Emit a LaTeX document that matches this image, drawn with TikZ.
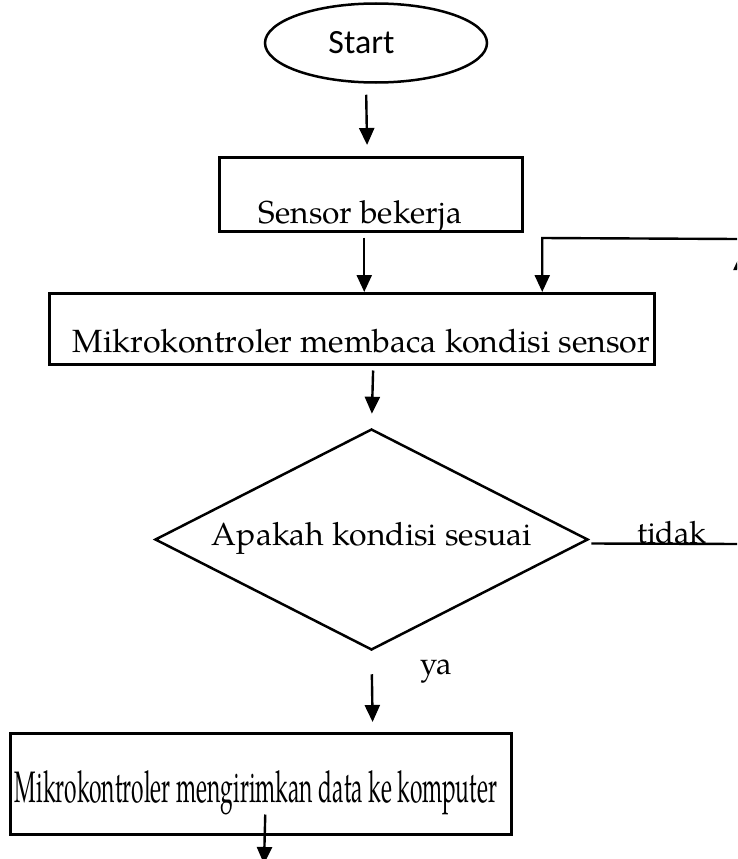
\documentclass[tikz,border=0pt]{standalone}
\usepackage{fontspec}
\setmainfont{TeX Gyre Pagella}
\newfontfamily\startfont{Carlito}
\usepackage{graphicx}
\usetikzlibrary{arrows.meta,shapes.geometric}
\tikzset{
 box/.style={draw, line width=2.5pt, inner sep=0pt, anchor=north west},
 arr/.style={line width=2.4pt, -{Triangle[length=17pt,width=15pt]}},
 txt/.style={inner sep=0pt, anchor=base},
}
\begin{document}
\begin{tikzpicture}[x=1pt,y=-1pt]
\useasboundingbox (0,0) rectangle (737,859);
\clip (0,0) rectangle (737,859);
\fill[white] (0,0) rectangle (737,859);
% shapes
\node[draw, ellipse, line width=2.5pt, minimum width=222pt, minimum height=79pt, inner sep=0pt] (start) at (376,43) {};
\node[box, minimum width=303pt, minimum height=74pt] (sensor) at (218,156) {};
\node[box, minimum width=605pt, minimum height=71pt] (mikro) at (48,292) {};
\node[draw, diamond, line width=2.5pt, minimum width=433pt, minimum height=221pt, inner sep=0pt] (cek) at (371.5,539.5) {};
\node[box, minimum width=501pt, minimum height=101pt] (kirim) at (9,732) {};
% texts
\node[txt] (tstart) at (361.5,53) {\resizebox{66pt}{!}{\startfont Start}};
\node[txt] (tsensor) at (360.5,223) {\resizebox{203pt}{!}{Sensor bekerja}};
\node[txt] (tmikro) at (361.5,352) {\resizebox{577pt}{!}{Mikrokontroler membaca kondisi sensor}};
\node[txt] (tcek) at (372,545) {\resizebox{320pt}{!}{Apakah kondisi sesuai}};
\node[txt] (ttidak) at (672,543) {\resizebox{70pt}{!}{tidak}};
\node[txt] (tya) at (436,674) {\resizebox{32pt}{!}{ya}};
\node[txt] (tkirim) at (256,802) {\resizebox{482pt}{32pt}{Mikrokontroler mengirimkan data ke komputer}};
% coordinates
\coordinate (fb) at (737,239);
\coordinate (tk) at (741,544);
\coordinate (up) at (741,253);
\coordinate (endc) at (264,864);
% connectors
\draw[arr, shorten <=11pt, shorten >=11pt] ([xshift=-10pt]start.south) -- ([xshift=-3.5pt]sensor.north);
\draw[arr, shorten <=5pt] ([xshift=-6.5pt]sensor.south) -- ([xshift=12.5pt]mikro.north);
\draw[arr] (fb) -- ([xshift=190.5pt,yshift=54pt]mikro.north) -- ([xshift=190.5pt]mikro.north);
\draw[arr, shorten <=5pt, shorten >=14pt] ([xshift=21.5pt]mikro.south) -- (cek.north);
\draw[arr] ([xshift=2pt,yshift=-4pt]cek.east) -- (tk) -- (up);
\draw[arr, shorten <=23pt, shorten >=10pt] (cek.south) -- ([xshift=112pt]kirim.north);
\draw[arr] ([xshift=4.5pt,yshift=21pt]kirim.south) -- (endc);
\end{tikzpicture}
\end{document}
